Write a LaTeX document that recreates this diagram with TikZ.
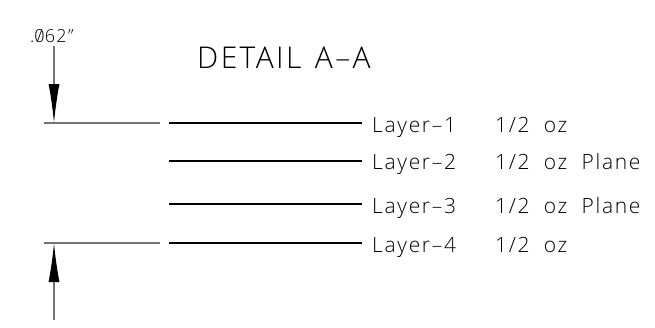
\documentclass[tikz,border=0pt]{standalone}
\usepackage{fontspec}
\setmainfont{Open Sans Light}[LetterSpace=8,WordSpace=2]
\usetikzlibrary{arrows.meta}
\newcommand{\slashzero}{\ooalign{0\cr\hidewidth/\hidewidth\cr}}
\tikzset{
  dimline/.style={draw=black!55,line width=1.2pt},
  dimarrow/.style={dimline,-{Latex[length=39pt,width=11pt,black]}},
  heavyline/.style={line width=2pt},
  lightline/.style={line width=1.4pt},
  layertext/.style={anchor=base west,inner sep=0pt,font=\fontsize{21}{24}\selectfont},
}
\begin{document}
\begin{tikzpicture}[x=1pt,y=-1pt]
  \useasboundingbox (0,0) rectangle (655,327);

  % Titles
  \node[layertext,font=\fontsize{30}{36}\selectfont] (detail) at (197,68) {DETAIL\hspace{-7pt} A--A};
  \node[layertext,font=\fontsize{18}{20}\selectfont] (thick) at (30,42) {.\slashzero 62"};

  % Dimension lines
  \coordinate (topa) at (44,123);
  \coordinate (topb) at (160,123);
  \coordinate (bota) at (44,243);
  \coordinate (botb) at (160,243);
  \coordinate (toparrow) at (54,46);
  \coordinate (toptip) at (54,123);
  \coordinate (botarrow) at (54,320);
  \coordinate (bottip) at (54,243);
  \draw[dimline] (topa) -- (topb);
  \draw[dimline] (bota) -- (botb);
  \draw[dimarrow] (toparrow) -- (toptip);
  \draw[dimarrow] (botarrow) -- (bottip);

  % Layers
  \coordinate (one) at (169,123);
  \coordinate (two) at (169,161);
  \coordinate (three) at (169,204);
  \coordinate (four) at (169,243);
  \coordinate (oneend) at (362,123);
  \coordinate (twoend) at (362,161);
  \coordinate (threeend) at (362,204);
  \coordinate (fourend) at (362,243);
  \draw[heavyline] (one) -- (oneend);
  \draw[lightline] (two) -- (twoend);
  \draw[lightline] (three) -- (threeend);
  \draw[heavyline] (four) -- (fourend);

  % Layer labels
  \node[layertext] (nameone) at (372,132) {Layer--1};
  \node[layertext] (nametwo) at (372,169) {Layer--2};
  \node[layertext] (namethree) at (372,213) {Layer--3};
  \node[layertext] (namefour) at (372,252) {Layer--4};
  \node[layertext] (copperone) at (495,132) {1/2 oz};
  \node[layertext] (coppertwo) at (495,169) {1/2 oz Plane};
  \node[layertext] (copperthree) at (495,213) {1/2 oz Plane};
  \node[layertext] (copperfour) at (495,252) {1/2 oz};
\end{tikzpicture}
\end{document}
